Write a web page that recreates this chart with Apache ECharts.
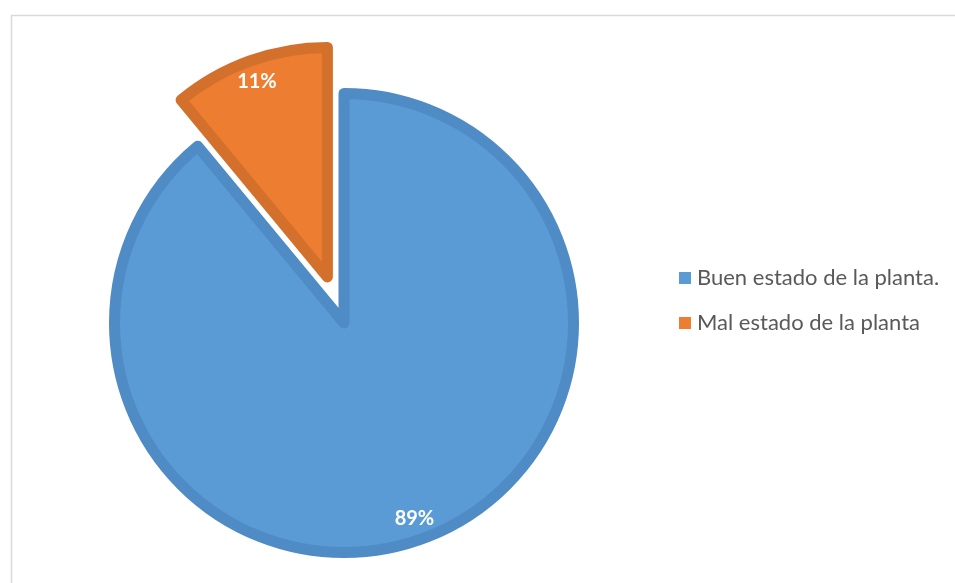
<!DOCTYPE html>
<html>
<head>
<meta charset="utf-8">
<script src="https://cdn.jsdelivr.net/npm/echarts@6/dist/echarts.min.js"></script>
<style>
  html, body { margin: 0; padding: 0; background: #ffffff; }
  #chart { width: 955px; height: 583px; }
</style>
</head>
<body>
<div id="chart"></div>
<script>
// Estado de las plantas (porcentaje)
const categories = ['Buen estado de la planta.', 'Mal estado de la planta'];
const values = [89, 11];
const fillColors = ['#5B9BD5', '#ED7D31'];
const edgeColors = ['#4F8BC4', '#D3702C'];

const FONT = 'Lato, "Open Sans", "Liberation Sans", sans-serif';
const CENTER = [344, 323];
const OUTER = 235;
const EDGE = 11;
const EXPLODE = 49;

const sliceData = categories.map((name, i) => ({
  name,
  value: values[i],
  selected: i === 1,
  itemStyle: { color: fillColors[i], borderColor: edgeColors[i] }
}));

// transparent copy used only to place the percentage labels further out
const labelData = categories.map((name, i) => ({
  name,
  value: values[i],
  selected: i === 1,
  itemStyle: { color: 'rgba(0,0,0,0)' }
}));

const chart = echarts.init(document.getElementById('chart'), null, { renderer: 'canvas' });

chart.setOption({
  animation: false,
  backgroundColor: '#ffffff',
  graphic: [{
    type: 'rect',
    left: 9, top: 13,
    shape: { width: 1000, height: 700 },
    style: { fill: 'none', stroke: '#D9D9D9', lineWidth: 1.5 },
    silent: true,
    z: -10
  }],
  legend: {
    orient: 'vertical',
    left: 679,
    top: 267,
    padding: 0,
    itemWidth: 12,
    itemHeight: 12,
    itemGap: 23,
    icon: 'rect',
    selectedMode: false,
    textStyle: { fontFamily: FONT, fontSize: 22, color: '#595959', padding: [0, 0, 0, 1] },
    data: categories.map((name, i) => ({ name, itemStyle: { color: fillColors[i], borderWidth: 0 } }))
  },
  series: [
    {
      type: 'pie',
      center: CENTER,
      radius: [0, OUTER - EDGE / 2],
      startAngle: 90,
      clockwise: true,
      selectedMode: 'single',
      selectedOffset: EXPLODE,
      avoidLabelOverlap: false,
      label: { show: false },
      labelLine: { show: false },
      emphasis: { disabled: true },
      itemStyle: { borderWidth: EDGE, borderJoin: 'round' },
      data: sliceData
    },
    {
      type: 'pie',
      center: CENTER,
      radius: [0, 410],
      startAngle: 90,
      clockwise: true,
      selectedMode: 'single',
      selectedOffset: EXPLODE,
      silent: true,
      avoidLabelOverlap: false,
      z: 5,
      label: {
        show: true,
        position: 'inside',
        formatter: '{d}%',
        color: '#ffffff',
        fontFamily: FONT,
        fontWeight: 'bold',
        fontSize: 20
      },
      labelLine: { show: false },
      emphasis: { disabled: true },
      data: labelData
    }
  ]
});
</script>
</body>
</html>
